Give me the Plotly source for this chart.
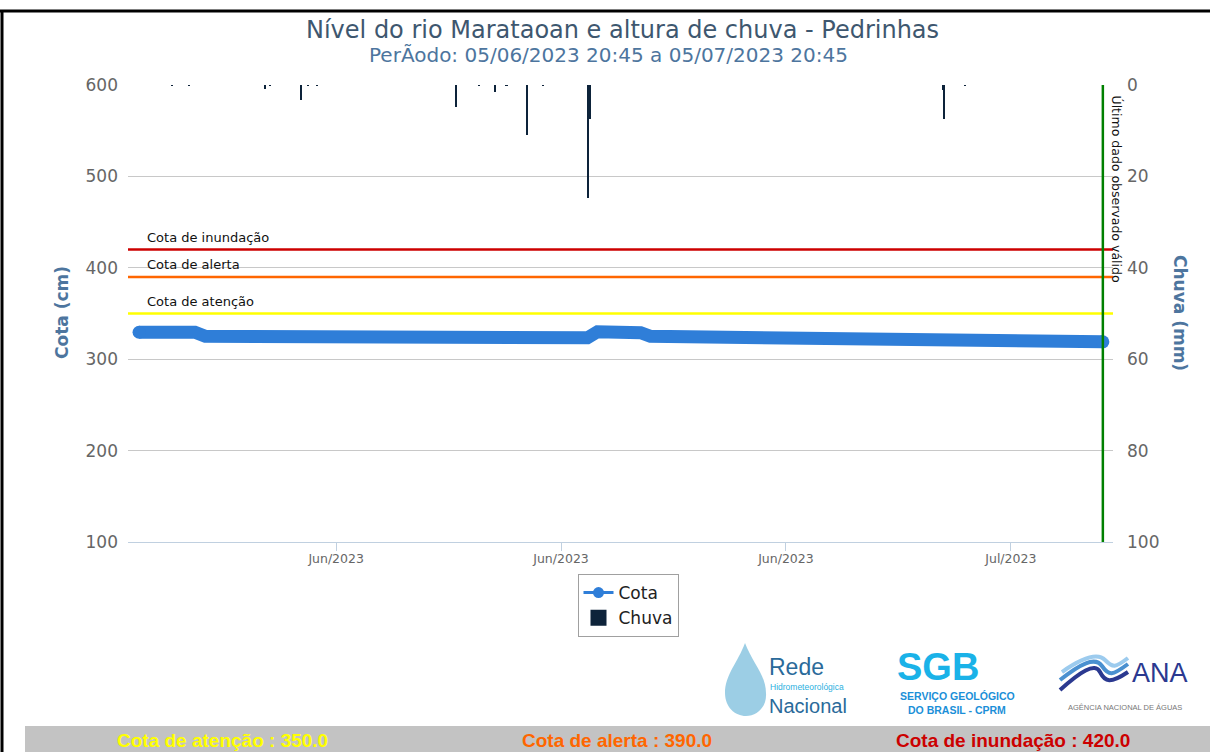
import plotly.graph_objects as go

# nivel do rio (cm)
cota_time = ["2023-06-05 20:45", "2023-06-07 14:30", "2023-06-07 22:15", "2023-06-14 14:45",
             "2023-06-14 20:45", "2023-06-17 06:00", "2023-06-17 12:00", "2023-06-19 19:45",
             "2023-06-20 03:15", "2023-06-21 11:30", "2023-06-21 18:45", "2023-06-23 10:30",
             "2023-06-23 15:45", "2023-06-26 11:00", "2023-06-26 18:30", "2023-06-28 20:30",
             "2023-06-29 06:15", "2023-07-03 17:15", "2023-07-04 02:00", "2023-07-05 20:45"]
cota_cm = [329.5, 329.5, 325.0, 324.5,
           323.5, 324.0, 323.5, 323.5,
           330.0, 329.0, 325.0, 324.5,
           323.0, 322.5, 321.5, 321.0,
           320.5, 320.5, 319.0, 319.0]

# chuva (mm)
chuva_time = ["2023-06-06 21:30", "2023-06-07 10:15", "2023-06-09 19:00", "2023-06-09 22:45",
              "2023-06-10 22:00", "2023-06-11 03:00", "2023-06-11 10:00", "2023-06-15 17:45",
              "2023-06-16 11:00", "2023-06-16 23:00", "2023-06-17 07:15", "2023-06-17 22:45",
              "2023-06-18 10:45", "2023-06-19 20:30", "2023-06-19 21:30", "2023-06-30 21:00",
              "2023-06-30 22:00", "2023-07-01 13:30"]
chuva_mm = [0.2, 0.2, 0.8, 0.2,
            3.3, 0.2, 0.2, 4.8,
            0.2, 1.6, 0.2, 11.0,
            0.2, 24.8, 7.4, 1.0,
            7.4, 0.2]

cota_names = ["Cota de atenção", "Cota de alerta", "Cota de inundação"]
cota_values = [350.0, 390.0, 420.0]
cota_colors = ["#ffff00", "#ff6600", "#cc0000"]

x_ticks_start = "2023-06-12"

# area do grafico em pixels
L, R, T, B = 128, 1113, 85, 542
W, H = 1210, 752


def px(x):
    return (x - L) / (R - L)


def py(y):
    return (B - y) / (B - T)


def path(points):
    s = ""
    for cmd, pts in points:
        s += cmd + " " + " ".join("%.4f,%.4f" % (px(a), py(b)) for a, b in pts) + " "
    return s.strip()


FONT = "DejaVu Sans"
BLUE = "#2f7ed8"
NAVY = "#0d233a"

fig = go.Figure()

fig.add_bar(x=chuva_time, y=chuva_mm, yaxis="y2", name="Chuva", showlegend=False,
            marker=dict(color=NAVY, line=dict(width=0)), width=5400000)

fig.add_scatter(x=cota_time, y=cota_cm, mode="lines", showlegend=False,
                line=dict(color=BLUE, width=13, shape="linear"))
fig.add_scatter(x=[cota_time[0], cota_time[-1]], y=[cota_cm[0], cota_cm[-1]], mode="markers",
                showlegend=False, marker=dict(color=BLUE, size=13))
# entradas da legenda
fig.add_scatter(x=[None], y=[None], mode="lines+markers", name="Cota",
                line=dict(color=BLUE, width=3), marker=dict(color=BLUE, size=11))
fig.add_scatter(x=[None], y=[None], mode="markers", name="Chuva",
                marker=dict(color=NAVY, size=19, symbol="square"))

shapes = []
annotations = []

for name, v, c in zip(cota_names, cota_values, cota_colors):
    shapes.append(dict(type="line", xref="paper", yref="y", x0=0, x1=1, y0=v, y1=v,
                       line=dict(color=c, width=2.5), layer="above"))
    annotations.append(dict(text=name, xref="paper", yref="y", x=px(145), y=v,
                            xanchor="left", yanchor="bottom", yshift=3, showarrow=False,
                            font=dict(family=FONT, size=13, color="#111")))

# ultimo dado
shapes.append(dict(type="line", xref="x", yref="paper", x0=cota_time[-1], x1=cota_time[-1],
                   y0=0, y1=1, line=dict(color="#008000", width=2.5), layer="above"))
annotations.append(dict(text="Último dado observado válido", textangle=90, xref="paper", yref="paper",
                        x=px(1116), y=py(93), xanchor="center", yanchor="top", showarrow=False,
                        font=dict(family=FONT, size=12.5, color="#111")))

# titulos
annotations.append(dict(text="Nível do rio Marataoan e altura de chuva - Pedrinhas", xref="paper",
                        yref="paper", x=px(622), y=py(30), xanchor="center", yanchor="middle",
                        showarrow=False, font=dict(family=FONT, size=24, color="#3e576f")))
annotations.append(dict(text="PerÃodo: 05/06/2023 20:45 a 05/07/2023 20:45", xref="paper",
                        yref="paper", x=px(608), y=py(55), xanchor="center", yanchor="middle",
                        showarrow=False, font=dict(family=FONT, size=20, color="#4d759e")))
annotations.append(dict(text="<b>Cota (cm)</b>", textangle=-90, xref="paper", yref="paper",
                        x=px(62), y=py(313), xanchor="center", yanchor="middle", showarrow=False,
                        font=dict(family=FONT, size=17, color="#4d759e")))
annotations.append(dict(text="<b>Chuva (mm)</b>", textangle=90, xref="paper", yref="paper",
                        x=px(1180), y=py(313), xanchor="center", yanchor="middle", showarrow=False,
                        font=dict(family=FONT, size=17, color="#4d759e")))

# moldura preta
shapes.append(dict(type="line", xref="paper", yref="paper", x0=px(0), x1=px(W), y0=py(11), y1=py(11),
                   line=dict(color="black", width=3)))
shapes.append(dict(type="line", xref="paper", yref="paper", x0=px(2), x1=px(2), y0=py(11), y1=py(H),
                   line=dict(color="black", width=3)))

# faixa inferior com as cotas
shapes.append(dict(type="rect", xref="paper", yref="paper", x0=px(25), x1=px(W + 5), y0=py(726),
                   y1=py(H + 5), fillcolor="#c3c3c3", line=dict(width=0)))
for name, v, c, cx in zip(cota_names, cota_values, cota_colors, [222, 617, 1013]):
    annotations.append(dict(text="<b>%s : %.1f</b>" % (name, v), xref="paper", yref="paper",
                            x=px(cx), y=py(740), xanchor="center", yanchor="middle", showarrow=False,
                            font=dict(family="Liberation Sans", size=19, color=c)))

# logos (aproximados)
shapes.append(dict(type="path", xref="paper", yref="paper",
                   path=path([("M", [(745, 643)]),
                              ("C", [(738, 662), (725, 675), (725, 693)]),
                              ("C", [(725, 707), (735, 716), (746, 716)]),
                              ("C", [(757, 716), (767, 707), (766, 693)]),
                              ("C", [(766, 675), (752, 662), (745, 643)]), ("Z", [])]),
                   fillcolor="#4aa6cf", opacity=0.55, line=dict(width=0)))
annotations.append(dict(text="Rede", xref="paper", yref="paper", x=px(767), y=py(667), xanchor="left",
                        yanchor="middle", showarrow=False,
                        font=dict(family="Liberation Sans Narrow, Liberation Sans", size=23, color="#2a6a9a")))
annotations.append(dict(text="Hidrometeorológica", xref="paper", yref="paper", x=px(768), y=py(687),
                        xanchor="left", yanchor="middle", showarrow=False,
                        font=dict(family="Liberation Sans Narrow, Liberation Sans", size=8.5, color="#2bb0e0")))
annotations.append(dict(text="Nacional", xref="paper", yref="paper", x=px(767), y=py(706), xanchor="left",
                        yanchor="middle", showarrow=False,
                        font=dict(family="Liberation Sans Narrow, Liberation Sans", size=20, color="#2a6a9a")))

annotations.append(dict(text="<b>SGB</b>", xref="paper", yref="paper", x=px(895), y=py(667),
                        xanchor="left", yanchor="middle", showarrow=False,
                        font=dict(family="Liberation Sans", size=38, color="#1ab2e8")))
shapes.append(dict(type="path", xref="paper", yref="paper",
                   path=path([("M", [(1000, 652), (1015, 660), (1015, 677), (1000, 685), (987, 677),
                                     (987, 660)]), ("Z", [])]),
                   line=dict(color="#1e8fd8", width=6)))
shapes.append(dict(type="path", xref="paper", yref="paper",
                   path=path([("M", [(1002, 653), (1014, 660), (1014, 668)])]),
                   line=dict(color="#f5c518", width=6)))
shapes.append(dict(type="path", xref="paper", yref="paper",
                   path=path([("M", [(987, 670), (987, 677), (998, 684)])]),
                   line=dict(color="#3cb54a", width=6)))
annotations.append(dict(text="<b>SERVIÇO GEOLÓGICO</b>", xref="paper", yref="paper", x=px(957), y=py(696),
                        xanchor="center", yanchor="middle", showarrow=False,
                        font=dict(family="Liberation Sans", size=10.5, color="#1b8fd8")))
annotations.append(dict(text="<b>DO BRASIL - CPRM</b>", xref="paper", yref="paper", x=px(957), y=py(710),
                        xanchor="center", yanchor="middle", showarrow=False,
                        font=dict(family="Liberation Sans", size=10.5, color="#1b8fd8")))

for pts, col in [([(1060, 690), (1080, 672), (1095, 662), (1100, 672), (1110, 684), (1128, 672)], "#2b3990"),
                 ([(1060, 680), (1080, 664), (1095, 656), (1102, 666), (1112, 676), (1128, 664)], "#4a90d0"),
                 ([(1062, 672), (1082, 658), (1097, 652), (1105, 660), (1115, 668), (1128, 658)], "#9ccbee")]:
    shapes.append(dict(type="path", xref="paper", yref="paper",
                       path=path([("M", [pts[0]]), ("C", pts[1:4]), ("S", pts[4:6])]),
                       line=dict(color=col, width=4)))
annotations.append(dict(text="ANA", xref="paper", yref="paper", x=px(1160), y=py(673), xanchor="center",
                        yanchor="middle", showarrow=False,
                        font=dict(family="Liberation Sans", size=27, color="#2b3990")))
annotations.append(dict(text="AGÊNCIA NACIONAL DE ÁGUAS", xref="paper", yref="paper", x=px(1125),
                        y=py(707), xanchor="center", yanchor="middle", showarrow=False,
                        font=dict(family="Liberation Sans", size=7.5, color="#777")))

fig.update_layout(
    width=W, height=H,
    margin=dict(l=L, r=W - R, t=T, b=H - B),
    paper_bgcolor="white", plot_bgcolor="white",
    font=dict(family=FONT, color="#666"),
    showlegend=True,
    legend=dict(x=px(628), y=py(574), xanchor="center", yanchor="top", orientation="v",
                bgcolor="white", bordercolor="#a0a0a0", borderwidth=1,
                font=dict(family=FONT, size=17, color="#222"), traceorder="normal",
                itemwidth=30, tracegroupgap=4),
    xaxis=dict(type="date", range=["2023-06-05 12:30", "2023-07-06 04:20"],
               tick0=x_ticks_start, dtick=7 * 86400000, tickformat="%b/%Y",
               ticks="outside", ticklen=8, tickcolor="#c0d0e0", showline=True,
               linecolor="#c0d0e0", linewidth=1, showgrid=False, zeroline=False,
               ticklabelstandoff=-3,
               tickfont=dict(family=FONT, size=12.5, color="#666")),
    yaxis=dict(range=[100, 600], dtick=100, showgrid=True, gridcolor="#c8c8c8", gridwidth=1,
               zeroline=False, ticks="", ticklabelstandoff=9,
               tickfont=dict(family=FONT, size=17, color="#666")),
    yaxis2=dict(range=[100, 0], dtick=20, overlaying="y", side="right", showgrid=False,
                zeroline=False, ticks="", ticklabelstandoff=13,
                tickfont=dict(family=FONT, size=17, color="#666")),
    shapes=shapes,
    annotations=annotations,
    bargap=0,
)

fig.write_html("out.html", config={"displayModeBar": False},
               post_script="document.body.style.margin='0px';"
                           "document.body.style.overflow='hidden';"
                           "document.documentElement.style.overflow='hidden';")
